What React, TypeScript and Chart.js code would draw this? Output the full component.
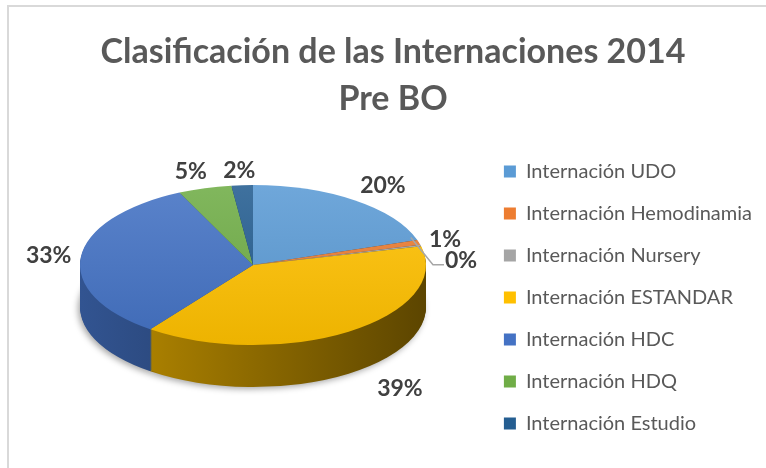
import React, { useEffect, useRef } from "react";
import { Chart, registerables } from "chart.js";

Chart.register(...registerables);

const categories = [
  "Internación UDO",
  "Internación Hemodinamia",
  "Internación Nursery",
  "Internación ESTANDAR",
  "Internación HDC",
  "Internación HDQ",
  "Internación Estudio",
];
const values = [20, 1, 0.3, 39, 33, 5, 2];
const colors = ["#5B9BD5", "#ED7D31", "#A5A5A5", "#FFC000", "#4472C4", "#70AD47", "#255E91"];
const titleLines = ["Clasificación de las Internaciones 2014", "Pre BO"];

const FONT = "Lato, 'Open Sans', sans-serif";
const PIE = { cx: 253, cy: 265, rx: 173, ry: 80, depth: 42 };

function hexRgb(hex: string) {
  const n = parseInt(hex.slice(1), 16);
  return [(n >> 16) & 255, (n >> 8) & 255, n & 255];
}
function shade(hex: string, f: number) {
  const [r, g, b] = hexRgb(hex);
  return `rgb(${Math.round(r * f)},${Math.round(g * f)},${Math.round(b * f)})`;
}
function lighten(hex: string, f: number) {
  const [r, g, b] = hexRgb(hex);
  return `rgb(${Math.round(r + (255 - r) * f)},${Math.round(g + (255 - g) * f)},${Math.round(b + (255 - b) * f)})`;
}

function drawWith(el: any, fill: any, ctx: CanvasRenderingContext2D) {
  const proxy = Object.create(el);
  proxy.options = { ...el.options, backgroundColor: fill, borderWidth: 0 };
  proxy.draw(ctx);
}

function drawLabels(chart: any) {
  const meta = chart.getDatasetMeta(0);
  const arcs = meta.data;
  const ctx: CanvasRenderingContext2D = chart.ctx;
  const total = values.reduce((a, b) => a + b, 0);
  ctx.save();
  ctx.font = `bold 23px ${FONT}`;
  ctx.fillStyle = "#404040";
  ctx.textAlign = "center";
  ctx.textBaseline = "middle";
  let prev: any = null;
  arcs.forEach((el: any, i: number) => {
    const a = (el.startAngle + el.endAngle) / 2;
    const mx = PIE.cx + PIE.rx * Math.cos(a);
    const my = PIE.cy + PIE.ry * Math.sin(a);
    let dx = mx - PIE.cx, dy = my - PIE.cy;
    const len = Math.hypot(dx, dy) || 1;
    dx /= len; dy /= len;
    const t = Math.round((values[i] / total) * 100) + "%";
    const w = ctx.measureText(t).width, h = 21;
    const extent = Math.abs(dx) * (w / 2) + Math.abs(dy) * (h / 2);
    const front = dy > 0 ? PIE.depth * dy : 0;
    const E = 9 + front * 1.2;
    let tx = mx + dx * (E + extent);
    let ty = my + dy * (E + extent) + (dy > 0 ? front * 0.8 + 2 : -dy * 7);
    let leader = false;
    if (prev && Math.abs(tx - prev.x) < (w + prev.w) / 2 && Math.abs(ty - prev.y) < h) {
      ty = prev.y + h;
      tx = prev.x + 16;
      leader = true;
    }
    if (leader) {
      ctx.save();
      ctx.strokeStyle = "#A6A6A6";
      ctx.lineWidth = 1.5;
      ctx.beginPath();
      ctx.moveTo(mx - 10, my - 8);
      ctx.lineTo(tx - w / 2 - 12, ty + 4);
      ctx.lineTo(tx - w / 2 - 1, ty + 4);
      ctx.stroke();
      ctx.restore();
    }
    ctx.fillText(t, tx, ty);
    prev = { x: tx, y: ty, w };
  });
  ctx.restore();
}

const pie3d = {
  id: "pie3d",
  beforeDatasetsDraw(chart: any) {
    const meta = chart.getDatasetMeta(0);
    const arcs = meta.data;
    if (!arcs.length) return;
    const ctx: CanvasRenderingContext2D = chart.ctx;
    const a0 = arcs[0];
    const R = a0.outerRadius, ax = a0.x, ay = a0.y;
    const sx = PIE.rx / R, sy = PIE.ry / R;
    ctx.save();
    ctx.translate(PIE.cx, PIE.cy);
    ctx.scale(sx, sy);
    ctx.translate(-ax, -ay);
    const sideFills = arcs.map((_: any, i: number) => {
      const g = ctx.createLinearGradient(ax - R, 0, ax + R, 0);
      g.addColorStop(0, shade(colors[i], 0.74));
      g.addColorStop(1, shade(colors[i], 0.36));
      return g;
    });
    for (let d = PIE.depth; d >= 1; d--) {
      ctx.save();
      ctx.translate(0, d / sy);
      if (d === PIE.depth) {
        ctx.shadowColor = "rgba(0,0,0,0.35)";
        ctx.shadowBlur = 6;
        ctx.shadowOffsetX = -2;
        ctx.shadowOffsetY = 2;
      }
      arcs.forEach((el: any, i: number) => drawWith(el, sideFills[i], ctx));
      ctx.restore();
    }
    arcs.forEach((el: any, i: number) => {
      const g = ctx.createLinearGradient(0, ay - R, 0, ay + R);
      g.addColorStop(0, lighten(colors[i], 0.12));
      g.addColorStop(1, shade(colors[i], 0.93));
      drawWith(el, g, ctx);
    });
    ctx.restore();
    drawLabels(chart);
    return false;
  },
};

export default function App() {
  const ref = useRef<HTMLCanvasElement>(null);
  useEffect(() => {
    if (!ref.current) return;
    const chart = new Chart(ref.current, {
      type: "pie",
      data: {
        labels: categories,
        datasets: [{ data: values, backgroundColor: colors, borderWidth: 0 }],
      },
      options: {
        responsive: false,
        animation: false,
        devicePixelRatio: 1,
        events: [],
        rotation: 0,
        layout: { padding: { left: 24, right: 4, top: 2, bottom: 6 } },
        plugins: {
          title: {
            display: true,
            text: titleLines,
            color: "#595959",
            font: { family: FONT, size: 34, weight: "bold", lineHeight: 1.38 },
            padding: { top: 27, bottom: 10 },
          },
          legend: {
            position: "right",
            align: "center",
            fullSize: false,
            labels: {
              boxWidth: 12,
              boxHeight: 12,
              padding: 22,
              color: "#595959",
              font: { family: FONT, size: 20, lineHeight: 1.2 },
            },
          },
          tooltip: { enabled: false },
        },
      },
      plugins: [pie3d],
    });
    return () => chart.destroy();
  }, []);
  return (
    <div style={{ position: "fixed", left: 0, top: 0, width: 766, height: 468, overflow: "hidden", background: "#fff" }}>
      <canvas ref={ref} width={766} height={468} style={{ position: "absolute", left: 0, top: 0 }} />
      <div
        style={{
          position: "absolute",
          left: 7,
          top: 5,
          width: 780,
          height: 480,
          border: "2px solid #D9D9D9",
          boxSizing: "border-box",
          pointerEvents: "none",
        }}
      />
    </div>
  );
}
